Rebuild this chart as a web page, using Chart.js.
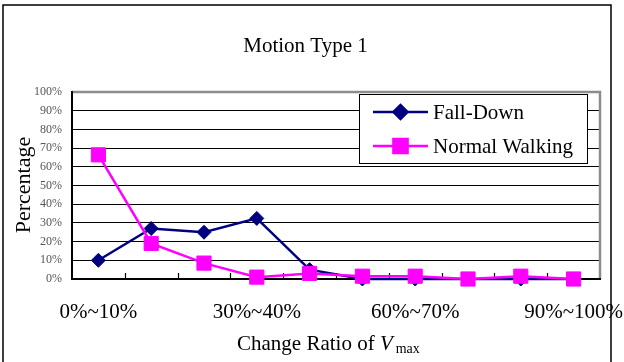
<!DOCTYPE html>
<html>
<head>
<meta charset="utf-8">
<script src="https://cdn.jsdelivr.net/npm/chart.js@4/dist/chart.umd.min.js"></script>
<style>
  html, body { margin: 0; padding: 0; background: #fff; }
  #wrap { width: 624px; height: 362px; }
</style>
</head>
<body>
<div id="wrap"><canvas id="c" width="624" height="362"></canvas></div>
<script>
// Share of samples per change-ratio bin
const categories = ['0%~10%', '10%~20%', '20%~30%', '30%~40%', '40%~50%',
                    '50%~60%', '60%~70%', '70%~80%', '80%~90%', '90%~100%'];
const fallDown = [10, 27, 25, 32.4, 5, 0, 0, 0, 0, 0];
const normalWalking = [66.4, 19, 8.5, 1, 3, 1.5, 1.5, 0, 1.5, 0];
const yTicks = [0, 10, 20, 30, 40, 50, 60, 70, 80, 90, 100];

const chartTitle = 'Motion Type 1';
const yTitle = 'Percentage';
const xTitleParts = ['Change Ratio of ', 'V', 'max'];

const SERIF = '"Liberation Serif", "Times New Roman", serif';

// Frame, between-category tick marks, legend box and titles
const decorations = {
  id: 'decorations',
  beforeDatasetsDraw(chart) {
    const { ctx, chartArea: a } = chart;
    const xs = chart.scales.x;
    ctx.save();
    // tick marks at category boundaries, pointing into the plot
    ctx.strokeStyle = '#000';
    ctx.lineWidth = 1.2;
    for (let i = 1; i < categories.length; i++) {
      const bx = Math.round((xs.getPixelForTick(i - 1) + xs.getPixelForTick(i)) / 2) + 0.5;
      ctx.beginPath();
      ctx.moveTo(bx, a.bottom);
      ctx.lineTo(bx, a.bottom - 6);
      ctx.stroke();
    }
    // grey top/right edges of the plot area
    ctx.strokeStyle = '#8c8c8c';
    ctx.lineWidth = 2.5;
    ctx.beginPath();
    ctx.moveTo(a.left, a.top);
    ctx.lineTo(a.right, a.top);
    ctx.lineTo(a.right, a.bottom);
    ctx.stroke();
    // black axis lines
    ctx.strokeStyle = '#000';
    ctx.lineWidth = 2;
    ctx.beginPath();
    ctx.moveTo(a.left, a.top - 1);
    ctx.lineTo(a.left, a.bottom);
    ctx.lineTo(a.right + 1, a.bottom);
    ctx.stroke();
    ctx.restore();
  },
  afterDatasetsDraw(chart) {
    const { ctx } = chart;
    ctx.save();
    // legend box
    const bx = 359.5, by = 94.5, bw = 228, bh = 69;
    ctx.fillStyle = '#fff';
    ctx.fillRect(bx, by, bw, bh);
    ctx.strokeStyle = '#000';
    ctx.lineWidth = 1;
    ctx.strokeRect(bx, by, bw, bh);
    const rows = [112, 146];
    chart.data.datasets.forEach((ds, i) => {
      const y = rows[i];
      ctx.strokeStyle = ds.borderColor;
      ctx.lineWidth = ds.borderWidth;
      ctx.beginPath();
      ctx.moveTo(373, y);
      ctx.lineTo(428, y);
      ctx.stroke();
      ctx.fillStyle = ds.backgroundColor;
      ctx.strokeStyle = ds.borderColor;
      Chart.helpers.drawPoint(ctx, {
        pointStyle: ds.pointStyle, radius: ds.pointRadius, borderWidth: 1, rotation: 0
      }, 400.5, y);
      ctx.fillStyle = '#000';
      ctx.font = '21px ' + SERIF;
      ctx.textAlign = 'left';
      ctx.textBaseline = 'middle';
      ctx.fillText(ds.label, 433, y + 1);
    });
    ctx.restore();
  },
  afterDraw(chart) {
    const { ctx } = chart;
    ctx.save();
    // outer frame
    ctx.strokeStyle = '#000';
    ctx.lineWidth = 1.5;
    ctx.beginPath();
    ctx.moveTo(3, 362);
    ctx.lineTo(3, 5);
    ctx.lineTo(611, 5);
    ctx.lineTo(611, 362);
    ctx.stroke();

    ctx.fillStyle = '#000';
    ctx.textBaseline = 'alphabetic';
    // chart title
    ctx.font = '21px ' + SERIF;
    ctx.textAlign = 'center';
    ctx.fillText(chartTitle, 305.5, 52);

    // y-axis title
    ctx.save();
    ctx.translate(29.5, 185);
    ctx.rotate(-Math.PI / 2);
    ctx.font = '22px ' + SERIF;
    ctx.textAlign = 'center';
    ctx.fillText(yTitle, 0, 0);
    ctx.restore();

    // x-axis title with italic V and subscript "max"
    ctx.textAlign = 'left';
    let x = 237;
    const base = 350;
    ctx.font = '21px ' + SERIF;
    ctx.fillText(xTitleParts[0], x, base);
    x += ctx.measureText(xTitleParts[0]).width;
    ctx.font = 'italic 21px ' + SERIF;
    ctx.fillText(xTitleParts[1], x, base);
    x += ctx.measureText(xTitleParts[1]).width + 3;
    ctx.font = '14px ' + SERIF;
    ctx.fillText(xTitleParts[2], x, base + 3);
    ctx.restore();
  }
};

new Chart(document.getElementById('c'), {
  type: 'line',
  data: {
    labels: categories,
    datasets: [
      {
        label: 'Fall-Down',
        data: fallDown,
        borderColor: '#000080',
        backgroundColor: '#000080',
        borderWidth: 2.5,
        pointStyle: 'rectRot',
        pointRadius: 7,
        pointHoverRadius: 7,
        pointBorderWidth: 1,
        tension: 0,
        clip: false,
        order: 1
      },
      {
        label: 'Normal Walking',
        data: normalWalking,
        borderColor: '#ff00ff',
        backgroundColor: '#ff00ff',
        borderWidth: 2.5,
        pointStyle: 'rect',
        pointRadius: 10,
        pointHoverRadius: 10,
        pointBorderWidth: 1,
        tension: 0,
        clip: false,
        order: 0
      }
    ]
  },
  options: {
    responsive: false,
    animation: false,
    devicePixelRatio: 1,
    layout: { padding: { top: 92, right: 24, left: 0, bottom: 0 } },
    plugins: {
      legend: { display: false },
      title: { display: false },
      tooltip: { enabled: false }
    },
    scales: {
      x: {
        type: 'category',
        offset: true,
        grid: { display: false },
        border: { display: false },
        ticks: {
          autoSkip: false,
          maxRotation: 0,
          padding: 13,
          color: '#000',
          font: { family: SERIF, size: 21 },
          callback: (v, i) => (i % 3 === 0 ? categories[i] : '')
        },
        afterFit: s => { s.height = 83; s.paddingLeft = 0; s.paddingRight = 0; }
      },
      y: {
        min: 0,
        max: 100,
        afterBuildTicks: s => { s.ticks = yTicks.map(v => ({ value: v })); },
        grid: { color: '#000', lineWidth: 1, drawTicks: false },
        border: { display: false },
        ticks: {
          padding: 10,
          color: '#555',
          font: { family: SERIF, size: 12 },
          callback: v => v + '%'
        },
        afterFit: s => { s.width = 72; s.paddingTop = 0; s.paddingBottom = 0; }
      }
    }
  },
  plugins: [decorations]
});
</script>
</body>
</html>
